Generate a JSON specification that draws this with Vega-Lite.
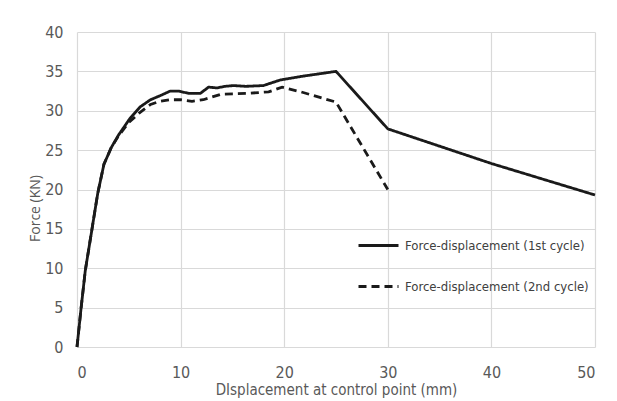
{
  "$schema": "https://vega.github.io/schema/vega-lite/v6.json",
  "width": 518,
  "height": 315,
  "autosize": {"type": "none"},
  "padding": {"left": 77, "top": 32, "right": 22, "bottom": 54},
  "background": "white",
  "config": {
    "view": {"stroke": null},
    "font": "DejaVu Sans Condensed, Lato"
  },
  "data": {
    "values": [
      {"x": 0, "y": 0, "series": "Force-displacement (1st cycle)"},
      {"x": 0.4, "y": 5, "series": "Force-displacement (1st cycle)"},
      {"x": 0.8, "y": 9.7, "series": "Force-displacement (1st cycle)"},
      {"x": 1.45, "y": 15, "series": "Force-displacement (1st cycle)"},
      {"x": 2.0, "y": 19.5, "series": "Force-displacement (1st cycle)"},
      {"x": 2.6, "y": 23.2, "series": "Force-displacement (1st cycle)"},
      {"x": 3.3, "y": 25.3, "series": "Force-displacement (1st cycle)"},
      {"x": 4.0, "y": 26.9, "series": "Force-displacement (1st cycle)"},
      {"x": 5.1, "y": 29.0, "series": "Force-displacement (1st cycle)"},
      {"x": 6.1, "y": 30.5, "series": "Force-displacement (1st cycle)"},
      {"x": 7.1, "y": 31.4, "series": "Force-displacement (1st cycle)"},
      {"x": 8.0, "y": 31.9, "series": "Force-displacement (1st cycle)"},
      {"x": 9.0, "y": 32.5, "series": "Force-displacement (1st cycle)"},
      {"x": 9.8, "y": 32.5, "series": "Force-displacement (1st cycle)"},
      {"x": 10.8, "y": 32.2, "series": "Force-displacement (1st cycle)"},
      {"x": 11.9, "y": 32.2, "series": "Force-displacement (1st cycle)"},
      {"x": 12.7, "y": 33.0, "series": "Force-displacement (1st cycle)"},
      {"x": 13.5, "y": 32.9, "series": "Force-displacement (1st cycle)"},
      {"x": 14.3, "y": 33.1, "series": "Force-displacement (1st cycle)"},
      {"x": 15.1, "y": 33.2, "series": "Force-displacement (1st cycle)"},
      {"x": 16.3, "y": 33.1, "series": "Force-displacement (1st cycle)"},
      {"x": 18.0, "y": 33.2, "series": "Force-displacement (1st cycle)"},
      {"x": 19.6, "y": 33.9, "series": "Force-displacement (1st cycle)"},
      {"x": 21.6, "y": 34.35, "series": "Force-displacement (1st cycle)"},
      {"x": 25, "y": 35, "series": "Force-displacement (1st cycle)"},
      {"x": 30, "y": 27.7, "series": "Force-displacement (1st cycle)"},
      {"x": 35, "y": 25.5, "series": "Force-displacement (1st cycle)"},
      {"x": 40, "y": 23.3, "series": "Force-displacement (1st cycle)"},
      {"x": 45, "y": 21.3, "series": "Force-displacement (1st cycle)"},
      {"x": 50, "y": 19.3, "series": "Force-displacement (1st cycle)"},
      {"x": 0, "y": 0, "series": "Force-displacement (2nd cycle)"},
      {"x": 0.4, "y": 5, "series": "Force-displacement (2nd cycle)"},
      {"x": 0.8, "y": 9.7, "series": "Force-displacement (2nd cycle)"},
      {"x": 1.45, "y": 15, "series": "Force-displacement (2nd cycle)"},
      {"x": 2.0, "y": 19.5, "series": "Force-displacement (2nd cycle)"},
      {"x": 2.6, "y": 23.2, "series": "Force-displacement (2nd cycle)"},
      {"x": 3.3, "y": 25.3, "series": "Force-displacement (2nd cycle)"},
      {"x": 4.0, "y": 26.8, "series": "Force-displacement (2nd cycle)"},
      {"x": 5.0, "y": 28.5, "series": "Force-displacement (2nd cycle)"},
      {"x": 6.0, "y": 29.7, "series": "Force-displacement (2nd cycle)"},
      {"x": 7.1, "y": 30.8, "series": "Force-displacement (2nd cycle)"},
      {"x": 8.0, "y": 31.2, "series": "Force-displacement (2nd cycle)"},
      {"x": 9.0, "y": 31.4, "series": "Force-displacement (2nd cycle)"},
      {"x": 10.0, "y": 31.4, "series": "Force-displacement (2nd cycle)"},
      {"x": 11.1, "y": 31.2, "series": "Force-displacement (2nd cycle)"},
      {"x": 12.2, "y": 31.4, "series": "Force-displacement (2nd cycle)"},
      {"x": 13.9, "y": 32.1, "series": "Force-displacement (2nd cycle)"},
      {"x": 16.4, "y": 32.2, "series": "Force-displacement (2nd cycle)"},
      {"x": 18.5, "y": 32.4, "series": "Force-displacement (2nd cycle)"},
      {"x": 19.8, "y": 33.0, "series": "Force-displacement (2nd cycle)"},
      {"x": 21.6, "y": 32.4, "series": "Force-displacement (2nd cycle)"},
      {"x": 25, "y": 31.1, "series": "Force-displacement (2nd cycle)"},
      {"x": 30, "y": 20, "series": "Force-displacement (2nd cycle)"}
    ]
  },
  "mark": {"type": "line", "strokeWidth": 2.8},
  "encoding": {
    "x": {
      "field": "x", "type": "quantitative",
      "scale": {"domain": [0, 50], "nice": false},
      "axis": {
        "values": [0, 10, 20, 30, 40, 50],
        "title": "DIsplacement at control point (mm)",
        "domain": false, "ticks": false,
        "gridColor": "#d9d9d9", "gridWidth": 1.2,
        "labelFontSize": 16, "labelColor": "#595959", "labelPadding": 17,
        "labelFont": "DejaVu Sans Condensed, Lato",
        "titleFont": "DejaVu Sans Condensed, Lato", "titleFontSize": 15, "titleFontWeight": "normal",
        "titleColor": "#595959", "titleY": 35, "titleBaseline": "top"
      }
    },
    "y": {
      "field": "y", "type": "quantitative",
      "scale": {"domain": [0, 40], "nice": false},
      "axis": {
        "values": [0, 5, 10, 15, 20, 25, 30, 35, 40],
        "title": "Force (KN)",
        "domain": false, "ticks": false,
        "gridColor": "#d9d9d9", "gridWidth": 1.2,
        "labelFontSize": 16, "labelColor": "#595959", "labelPadding": 14,
        "labelFont": "DejaVu Sans Condensed, Lato",
        "titleFont": "Open Sans", "titleFontSize": 14, "titleFontWeight": "normal",
        "titleColor": "#595959", "titleX": -35, "titleY": 176, "titleAngle": -90,
        "titleAlign": "center", "titleBaseline": "bottom"
      }
    },
    "color": {
      "field": "series", "type": "nominal",
      "scale": {"range": ["#1a1a1a", "#1a1a1a"]},
      "legend": {
        "title": null,
        "orient": "none", "legendX": 280, "legendY": 192,
        "symbolType": "stroke", "symbolSize": 1600, "symbolStrokeWidth": 2.8,
        "labelFont": "DejaVu Sans Condensed, Lato", "labelFontSize": 13, "labelColor": "#404040",
        "labelOffset": 5, "rowPadding": 12, "labelLimit": 300
      }
    },
    "strokeDash": {
      "field": "series", "type": "nominal",
      "scale": {"range": [[1, 0], [8, 5]]},
      "legend": {
        "title": null,
        "orient": "none", "legendX": 280, "legendY": 192,
        "symbolType": "stroke", "symbolSize": 1600, "symbolStrokeWidth": 2.8,
        "labelFont": "DejaVu Sans Condensed, Lato", "labelFontSize": 13, "labelColor": "#404040",
        "labelOffset": 5, "rowPadding": 12, "labelLimit": 300
      }
    }
  }
}
